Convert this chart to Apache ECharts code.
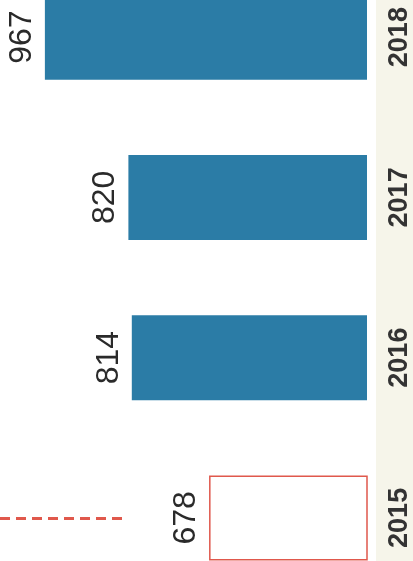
<!DOCTYPE html>
<html>
<head>
<meta charset="utf-8">
<style>
  html, body { margin: 0; padding: 0; background: #fff; overflow: hidden; }
  body { width: 413px; height: 561px; position: relative; }
  /* the plot is a crop: first and last rows run past the page edges */
  #chart { position: absolute; left: 0; top: -43px; width: 413px; height: 641px; }
</style>
<script src="https://cdn.jsdelivr.net/npm/echarts@6/dist/echarts.min.js"></script>
</head>
<body>
<div id="chart"></div>
<script>
var years = ['2015', '2016', '2017', '2018'];
var values = [678, 814, 820, 967];
// 2015 is drawn as an outlined (hollow) bar
var hollowYear = '2015';
// red dashed reference segment on the 2015 row (value range)
var dashFrom = 1046;
var dashTo = 827;

var chart = echarts.init(document.getElementById('chart'));

var barData = values.map(function (v, i) {
    if (years[i] === hollowYear) {
        return {
            value: v,
            itemStyle: { color: '#ffffff', borderColor: '#e0584c', borderWidth: 1.5 }
        };
    }
    return { value: v };
});

var option = {
    backgroundColor: '#ffffff',
    animation: false,
    graphic: [{
        type: 'rect',
        left: 376, top: 0,
        shape: { width: 37, height: 641 },
        style: { fill: '#f6f5ea' },
        z: -10
    }],
    grid: {
        left: 0,
        right: 44,
        top: 0,
        bottom: 0
    },
    xAxis: {
        type: 'value',
        inverse: true,
        min: 400,
        max: 1046,
        show: false
    },
    yAxis: {
        type: 'category',
        data: years,
        position: 'right',
        axisLine: { show: false },
        axisTick: { show: false },
        axisLabel: {
            rotate: 90,
            margin: 19,
            fontFamily: 'Liberation Sans',
            fontSize: 27,
            fontWeight: 'bold',
            color: '#333'
        }
    },
    series: [{
        type: 'bar',
        data: barData,
        barWidth: 85,
        itemStyle: { color: '#2b7ca6' },
        label: {
            show: true,
            position: 'left',
            distance: 7,
            rotate: 90,
            align: 'center',
            verticalAlign: 'bottom',
            fontFamily: 'Liberation Sans',
            fontSize: 32,
            color: '#2a2a2a'
        },
        markLine: {
            silent: true,
            symbol: 'none',
            label: { show: false },
            lineStyle: { color: '#e0584c', type: [10, 6], width: 3 },
            data: [[
                { coord: [dashFrom, hollowYear] },
                { coord: [dashTo, hollowYear] }
            ]]
        }
    }]
};
chart.setOption(option);
</script>
</body>
</html>
